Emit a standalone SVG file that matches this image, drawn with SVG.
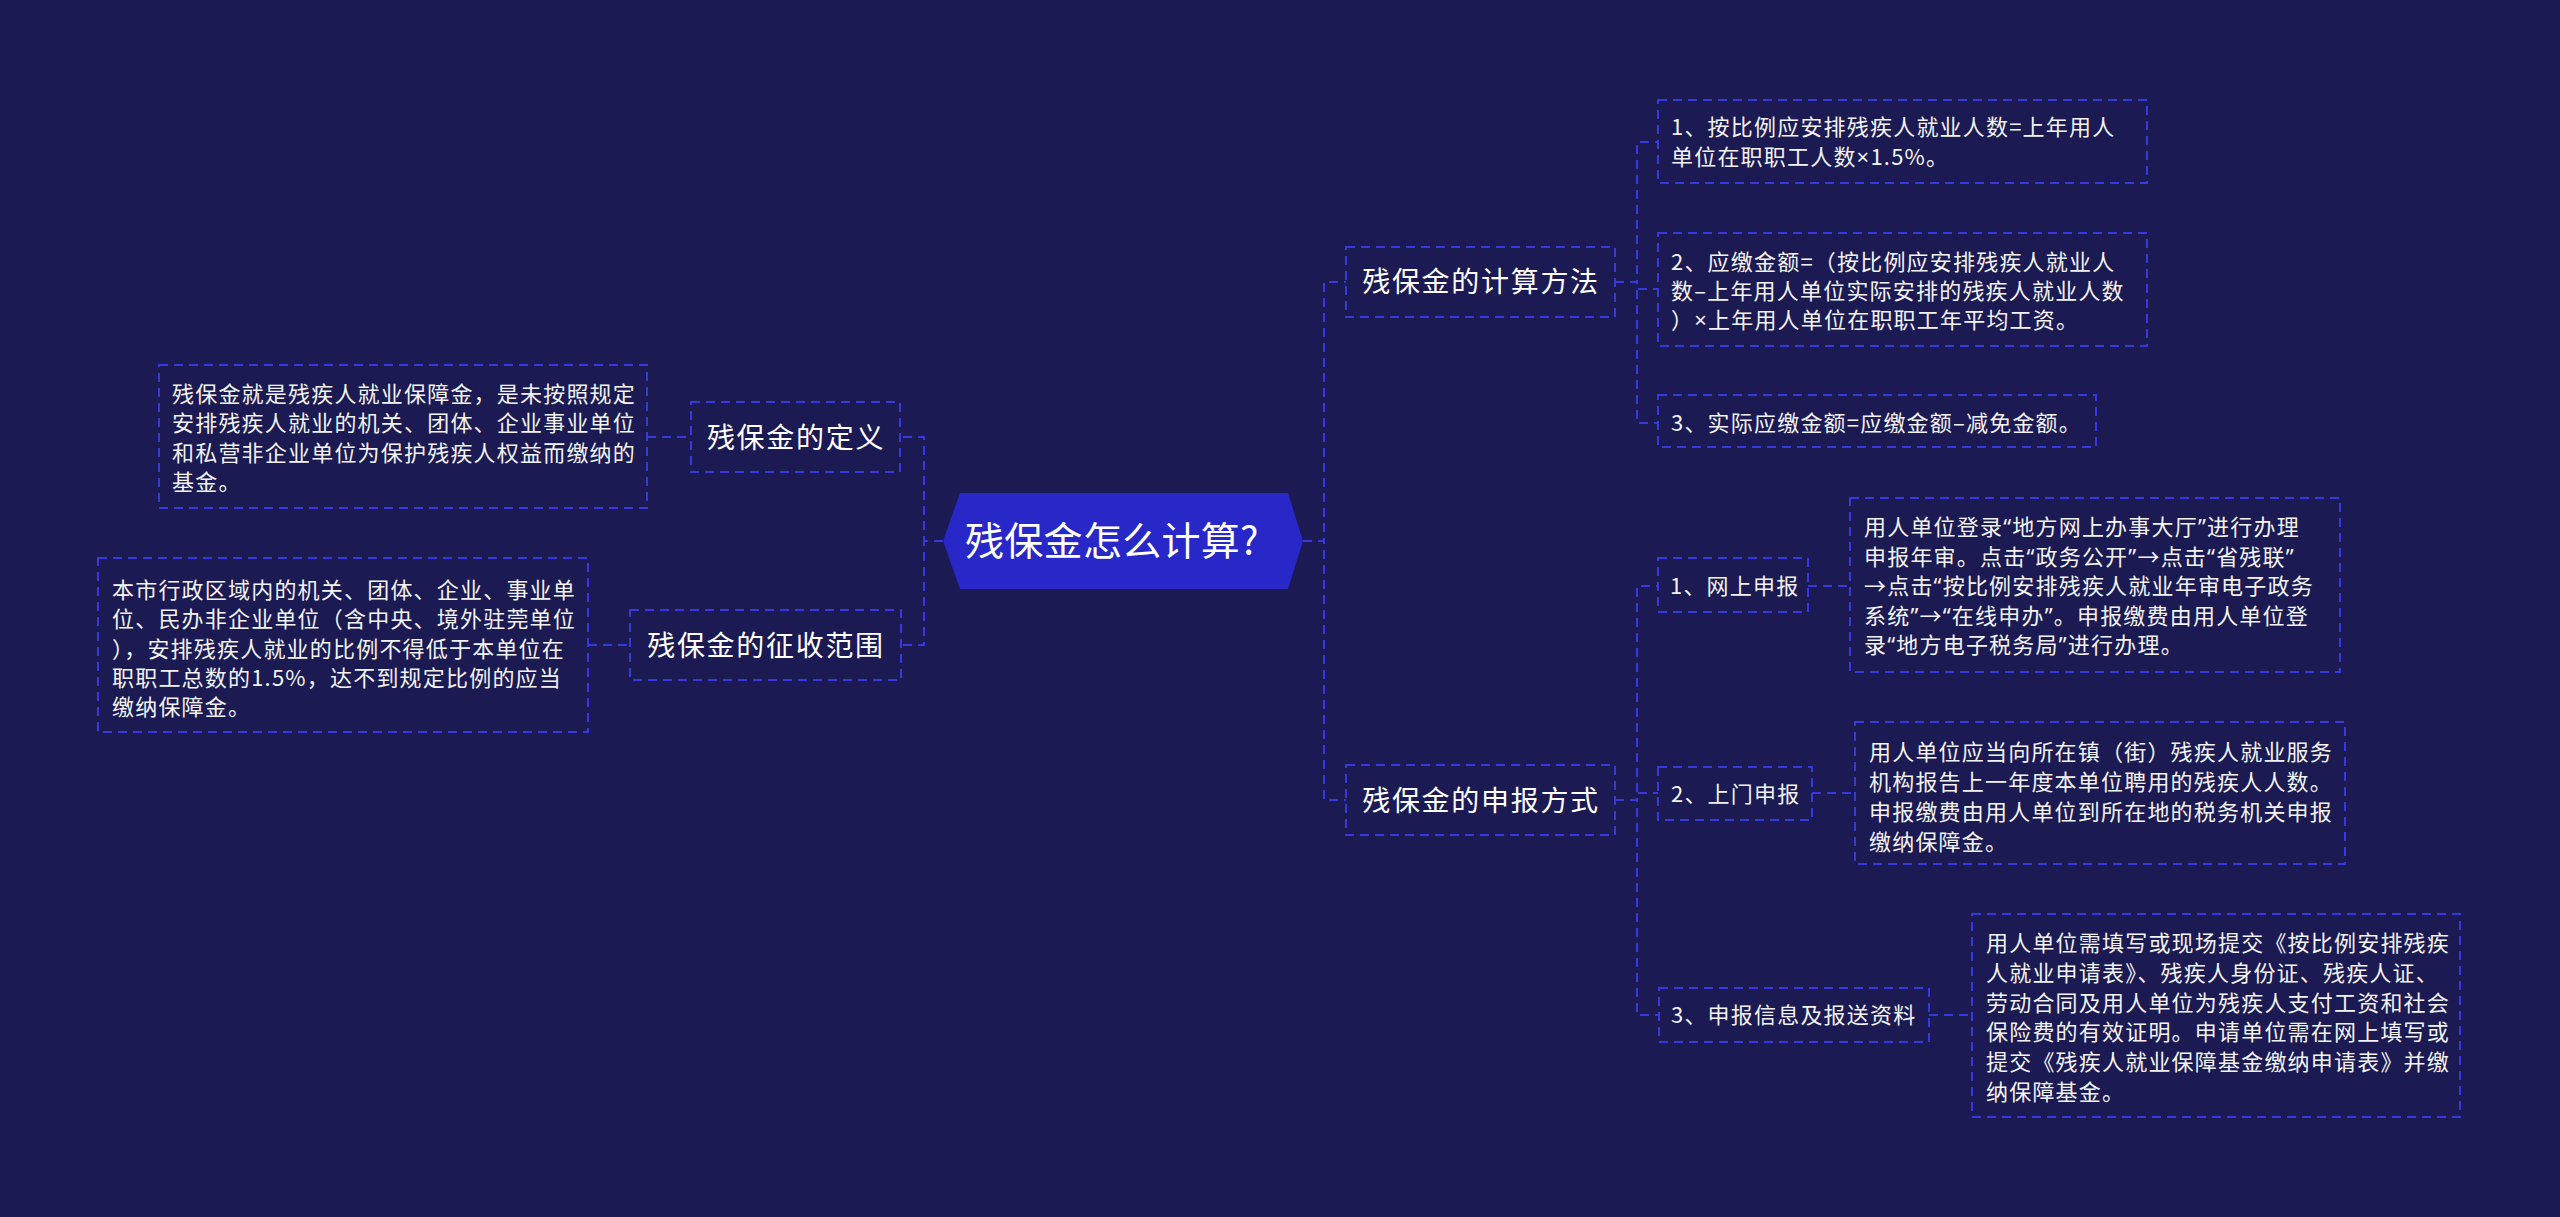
<svg xmlns="http://www.w3.org/2000/svg" width="2560" height="1217" viewBox="0 0 2560 1217">
<style>
.bg{fill:#1b1a52}
.box{fill:#1b1a52;stroke:#3838dc;stroke-width:2;stroke-dasharray:9 6}
.ln{fill:none;stroke:#3838dc;stroke-width:2;stroke-dasharray:9 6}
.t{font-family:"Noto Sans CJK SC","Noto Sans",sans-serif;fill:#ffffff}
.root{font-size:39px;letter-spacing:0.3px}
.sec{font-size:28px;letter-spacing:1.7px;text-anchor:middle}
.lf{font-size:22px;letter-spacing:1.2px;fill:#f2f2f2}
.q{font-family:"Noto Sans","Liberation Sans",sans-serif}
</style>
<rect class="bg" x="0" y="0" width="2560" height="1217"/>

<g id="connectors">
<path class="ln" d="M943 541 H924 V437 H900"/>
<path class="ln" d="M943 541 H924 V645 H901"/>
<path class="ln" d="M647 437 H691"/>
<path class="ln" d="M588 645 H630"/>
<path class="ln" d="M1303 541 H1324 V282 H1346"/>
<path class="ln" d="M1303 541 H1324 V800 H1346"/>
<path class="ln" d="M1615 282 H1637 V142 H1658"/>
<path class="ln" d="M1615 282 H1637 V289 H1658"/>
<path class="ln" d="M1615 282 H1637 V423 H1658"/>
<path class="ln" d="M1615 800 H1637 V586 H1658"/>
<path class="ln" d="M1615 800 H1637 V793 H1658"/>
<path class="ln" d="M1615 800 H1637 V1015 H1659"/>
<path class="ln" d="M1808 586 H1850"/>
<path class="ln" d="M1812 793 H1855"/>
<path class="ln" d="M1929 1015 H1972"/>
</g>

<g id="root">
<polygon points="943,541 960,493 1288,493 1303,541 1288,589 960,589" fill="#2828c8"/>
<text class="t root" x="965" y="555">残保金怎么计算?</text>
</g>

<g id="n-def">
<rect class="box" x="691" y="402" width="209" height="70"/>
<text class="t sec" x="796" y="448">残保金的定义</text>
</g>
<g id="n-def-leaf">
<rect class="box" x="159" y="365" width="488" height="143"/>
<text class="t lf" x="172" y="401.5">残保金就是残疾人就业保障金，是未按照规定</text>
<text class="t lf" x="172" y="431">安排残疾人就业的机关、团体、企业事业单位</text>
<text class="t lf" x="172" y="460.5">和私营非企业单位为保护残疾人权益而缴纳的</text>
<text class="t lf" x="172" y="490">基金。</text>
</g>

<g id="n-range">
<rect class="box" x="630" y="610" width="271" height="70"/>
<text class="t sec" x="766" y="656">残保金的征收范围</text>
</g>
<g id="n-range-leaf">
<rect class="box" x="98" y="558" width="490" height="174"/>
<text class="t lf" x="112" y="598">本市行政区域内的机关、团体、企业、事业单</text>
<text class="t lf" x="112" y="627.3">位、民办非企业单位（含中央、境外驻莞单位</text>
<text class="t lf" x="112" y="656.6">），安排残疾人就业的比例不得低于本单位在</text>
<text class="t lf" x="112" y="686">职职工总数的1.5%，达不到规定比例的应当</text>
<text class="t lf" x="112" y="715">缴纳保障金。</text>
</g>

<g id="n-calc">
<rect class="box" x="1346" y="247" width="269" height="70"/>
<text class="t sec" x="1481" y="292">残保金的计算方法</text>
</g>
<g id="n-calc-1">
<rect class="box" x="1658" y="100" width="489" height="83"/>
<text class="t lf" x="1671" y="135">1、按比例应安排残疾人就业人数=上年用人</text>
<text class="t lf" x="1671" y="165">单位在职职工人数<tspan class="q">×</tspan>1.5%。</text>
</g>
<g id="n-calc-2">
<rect class="box" x="1658" y="233" width="489" height="113"/>
<text class="t lf" x="1671" y="270">2、应缴金额=（按比例应安排残疾人就业人</text>
<text class="t lf" x="1671" y="299">数–上年用人单位实际安排的残疾人就业人数</text>
<text class="t lf" x="1671" y="328">）<tspan class="q">×</tspan>上年用人单位在职职工年平均工资。</text>
</g>
<g id="n-calc-3">
<rect class="box" x="1658" y="395" width="438" height="52"/>
<text class="t lf" x="1671" y="431">3、实际应缴金额=应缴金额–减免金额。</text>
</g>

<g id="n-apply">
<rect class="box" x="1346" y="765" width="269" height="70"/>
<text class="t sec" x="1481" y="811">残保金的申报方式</text>
</g>
<g id="n-online">
<rect class="box" x="1658" y="558" width="150" height="54"/>
<text class="t lf" x="1670" y="594">1、网上申报</text>
</g>
<g id="n-online-leaf">
<rect class="box" x="1850" y="498" width="490" height="174"/>
<text class="t lf" x="1864" y="535">用人单位登录<tspan class="q">“</tspan>地方网上办事大厅<tspan class="q">”</tspan>进行办理</text>
<text class="t lf" x="1864" y="564.5">申报年审。点击<tspan class="q">“</tspan>政务公开<tspan class="q">”</tspan>→点击<tspan class="q">“</tspan>省残联<tspan class="q">”</tspan></text>
<text class="t lf" x="1864" y="594">→点击<tspan class="q">“</tspan>按比例安排残疾人就业年审电子政务</text>
<text class="t lf" x="1864" y="623.5">系统<tspan class="q">”</tspan>→<tspan class="q">“</tspan>在线申办<tspan class="q">”</tspan>。申报缴费由用人单位登</text>
<text class="t lf" x="1864" y="653">录<tspan class="q">“</tspan>地方电子税务局<tspan class="q">”</tspan>进行办理。</text>
</g>
<g id="n-door">
<rect class="box" x="1658" y="767" width="154" height="53"/>
<text class="t lf" x="1671" y="802">2、上门申报</text>
</g>
<g id="n-door-leaf">
<rect class="box" x="1855" y="722" width="490" height="142"/>
<text class="t lf" x="1869" y="760">用人单位应当向所在镇（街）残疾人就业服务</text>
<text class="t lf" x="1869" y="790">机构报告上一年度本单位聘用的残疾人人数。</text>
<text class="t lf" x="1869" y="820">申报缴费由用人单位到所在地的税务机关申报</text>
<text class="t lf" x="1869" y="850">缴纳保障金。</text>
</g>
<g id="n-info">
<rect class="box" x="1659" y="988" width="270" height="54"/>
<text class="t lf" x="1671" y="1023">3、申报信息及报送资料</text>
</g>
<g id="n-info-leaf">
<rect class="box" x="1972" y="914" width="488" height="203"/>
<text class="t lf" x="1986" y="951">用人单位需填写或现场提交《按比例安排残疾</text>
<text class="t lf" x="1986" y="981">人就业申请表》、残疾人身份证、残疾人证、</text>
<text class="t lf" x="1986" y="1010.6">劳动合同及用人单位为残疾人支付工资和社会</text>
<text class="t lf" x="1986" y="1040.4">保险费的有效证明。申请单位需在网上填写或</text>
<text class="t lf" x="1986" y="1070">提交《残疾人就业保障基金缴纳申请表》并缴</text>
<text class="t lf" x="1986" y="1100">纳保障基金。</text>
</g>
</svg>
